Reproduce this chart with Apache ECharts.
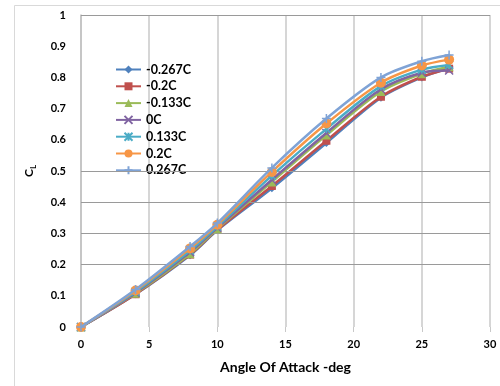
<!DOCTYPE html>
<html>
<head>
<meta charset="utf-8">
<script src="https://cdn.jsdelivr.net/npm/echarts@6/dist/echarts.min.js"></script>
<style>
  html, body { margin: 0; padding: 0; background: #ffffff; }
  #chart { width: 500px; height: 386px; }
</style>
</head>
<body>
<div id="chart"></div>
<script>
// Angle of attack (deg) at which lift coefficient was measured
const angles = [0, 4, 8, 10, 14, 18, 22, 25, 27];

// Lift coefficient per chordwise position
const seriesNames = ['-0.267C', '-0.2C', '-0.133C', '0C', '0.133C', '0.2C', '0.267C'];
const clMinus0267 = [0, 0.105, 0.230, 0.310, 0.445, 0.590, 0.735, 0.800, 0.830];
const clMinus02   = [0, 0.105, 0.232, 0.312, 0.452, 0.597, 0.738, 0.802, 0.828];
const clMinus0133 = [0, 0.108, 0.235, 0.315, 0.465, 0.615, 0.755, 0.812, 0.834];
const clZero      = [0, 0.110, 0.240, 0.318, 0.472, 0.622, 0.762, 0.815, 0.822];
const clPlus0133  = [0, 0.113, 0.245, 0.322, 0.485, 0.635, 0.772, 0.825, 0.840];
const clPlus02    = [0, 0.117, 0.252, 0.328, 0.497, 0.652, 0.783, 0.838, 0.857];
const clPlus0267  = [0, 0.120, 0.258, 0.333, 0.510, 0.668, 0.800, 0.852, 0.872];

// Horizontal reference lines drawn across the plot
const hGridValues = [1, 0.5, 0.4, 0.3, 0.2];

const allValues = [clMinus0267, clMinus02, clMinus0133, clZero, clPlus0133, clPlus02, clPlus0267];
const colors = ['#4F81BD', '#C0504D', '#9BBB59', '#8064A2', '#4BACC6', '#F79646', '#7FA3D6'];
const symbols = [
  'diamond',
  'rect',
  'triangle',
  'path://M0,0L10,10M10,0L0,10',
  'path://M0,0L10,10M10,0L0,10M5,0L5,10',
  'circle',
  'path://M5,0L5,10M0,5L10,5'
];
const strokeSymbols = [false, false, false, true, true, false, true];
const symbolSizes = [8, 8, 9, 8, 8, 10, 9];

const font = 'Lato, "Open Sans", sans-serif';

const series = seriesNames.map((name, i) => ({
  name: name,
  type: 'line',
  smooth: 0.3,
  data: angles.map((a, j) => [a, allValues[i][j]]),
  symbol: symbols[i],
  symbolSize: symbolSizes[i],
  showAllSymbol: true,
  lineStyle: { color: colors[i], width: 2.5 },
  itemStyle: strokeSymbols[i]
    ? { color: colors[i], borderColor: colors[i], borderWidth: 1.5 }
    : { color: colors[i] },
  z: 3 + i
}));

// Invisible carrier series for the horizontal grid lines
series.push({
  name: 'hgrid',
  type: 'line',
  data: [],
  silent: true,
  z: 1,
  markLine: {
    silent: true,
    symbol: 'none',
    label: { show: false },
    lineStyle: { color: '#9a9a9a', width: 1, type: 'solid' },
    data: hGridValues.map(v => ({ yAxis: v }))
  }
});

const chart = echarts.init(document.getElementById('chart'), null, { renderer: 'canvas' });
chart.setOption({
  animation: false,
  backgroundColor: '#ffffff',
  color: colors,
  grid: { left: 81, right: 10, top: 15, bottom: 59, containLabel: false },
  graphic: [{
    type: 'rect',
    left: 12, top: 3,
    shape: { width: 486, height: 381 },
    style: { fill: 'none', stroke: '#d9d9d9', lineWidth: 1 },
    silent: true
  }],
  legend: {
    data: seriesNames,
    orient: 'vertical',
    left: 115,
    top: 63,
    padding: 0,
    itemWidth: 25,
    itemHeight: 10,
    itemGap: 3.8,
    textStyle: { fontFamily: font, fontWeight: 'bold', fontSize: 12.5, color: '#000', lineHeight: 12 }
  },
  xAxis: {
    type: 'value',
    min: 0, max: 30, interval: 5,
    name: 'Angle Of Attack -deg',
    nameLocation: 'middle',
    nameGap: 33,
    nameTextStyle: { fontFamily: font, fontWeight: 'bold', fontSize: 14, color: '#000' },
    axisLine: { show: false },
    axisTick: { show: true, length: 5, lineStyle: { color: '#c8c8c8' } },
    axisLabel: { fontFamily: font, fontWeight: 'bold', fontSize: 11, color: '#000', margin: 12 },
    splitLine: { show: true, lineStyle: { color: '#c8c8c8', width: 1.5 } }
  },
  yAxis: {
    type: 'value',
    min: 0, max: 1, interval: 0.1,
    name: '{c|C}{l|L}',
    nameLocation: 'middle',
    nameRotate: 90,
    nameGap: 44,
    nameTextStyle: {
      fontFamily: font, fontWeight: 'bold', color: '#000',
      rich: {
        c: { fontFamily: font, fontWeight: 'bold', fontSize: 12, color: '#000' },
        l: { fontFamily: font, fontWeight: 'bold', fontSize: 8, color: '#000', padding: [7, 0, 0, 0] }
      }
    },
    axisLine: { show: true, lineStyle: { color: '#c0c0c0', width: 1.5 } },
    axisTick: { show: false },
    axisLabel: { fontFamily: font, fontWeight: 'bold', fontSize: 11, color: '#000', margin: 15,
      formatter: v => String(Math.round(v * 10) / 10) },
    splitLine: { show: false }
  },
  series: series
});
</script>
</body>
</html>
